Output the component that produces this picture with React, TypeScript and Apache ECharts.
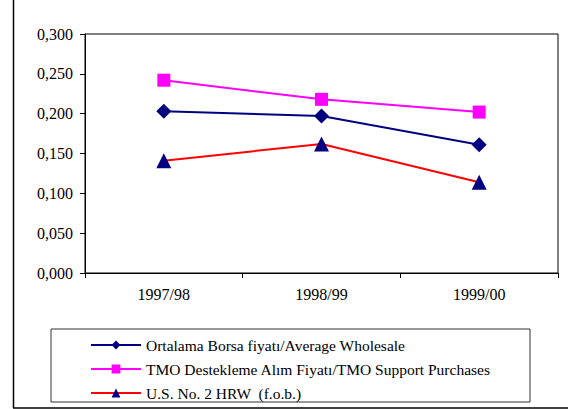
import React, { useEffect, useRef } from "react";
import * as echarts from "echarts";

const categories = ["1997/98", "1998/99", "1999/00"];
const averageWholesale = [0.203, 0.197, 0.161];
const tmoSupport = [0.242, 0.218, 0.202];
const usHrw = [0.141, 0.162, 0.114];
const seriesNames = [
  "Ortalama Borsa fiyatı/Average Wholesale",
  "TMO Destekleme Alım Fiyatı/TMO Support Purchases",
  "U.S. No. 2 HRW  (f.o.b.)",
];

const FONT = "'Liberation Serif', 'Times New Roman', serif";

export default function App() {
  const ref = useRef<HTMLDivElement>(null);
  useEffect(() => {
    if (!ref.current) return;
    const chart = echarts.init(ref.current, null, { renderer: "svg" });
    chart.setOption({
      animation: false,
      backgroundColor: "#fff",
      textStyle: { fontFamily: FONT, color: "#000" },
      grid: {
        left: 85,
        top: 34,
        right: 10,
        bottom: 136,
        show: true,
        borderColor: "#000",
        borderWidth: 1,
        backgroundColor: "#fff",
      },
      xAxis: {
        type: "category",
        data: categories,
        boundaryGap: true,
        axisLine: { lineStyle: { color: "#000", width: 1 } },
        axisTick: { show: true, length: 5, inside: false, lineStyle: { color: "#000" } },
        axisLabel: { color: "#000", fontFamily: FONT, fontSize: 16, margin: 13 },
      },
      yAxis: {
        type: "value",
        min: 0,
        max: 0.3,
        interval: 0.05,
        axisLine: { show: true, lineStyle: { color: "#000", width: 1 } },
        axisTick: { show: true, length: 5, lineStyle: { color: "#000" } },
        splitLine: { show: false },
        axisLabel: {
          color: "#000",
          fontFamily: FONT,
          fontSize: 16,
          margin: 12,
          formatter: (v: number) => v.toFixed(3).replace(".", ","),
        },
      },
      legend: {
        orient: "vertical",
        left: 90,
        top: 337,
        itemWidth: 50,
        itemHeight: 11,
        itemGap: 8,
        padding: 0,
        textStyle: { fontFamily: FONT, fontSize: 15.5, color: "#000", lineHeight: 16 },
        data: seriesNames,
      },
      graphic: [
        {
          type: "line",
          shape: { x1: 13.5, y1: 0, x2: 13.5, y2: 408 },
          style: { stroke: "#000", lineWidth: 1.5 },
        },
        {
          type: "line",
          shape: { x1: 13, y1: 408, x2: 568, y2: 408 },
          style: { stroke: "#000", lineWidth: 1.5 },
        },
        {
          type: "rect",
          shape: { x: 51, y: 329, width: 479, height: 73 },
          style: { fill: "none", stroke: "#333", lineWidth: 1 },
          z: -1,
        },
      ],
      series: [
        {
          name: seriesNames[0],
          type: "line",
          data: averageWholesale,
          symbol: "diamond",
          symbolSize: 15,
          lineStyle: { color: "#000080", width: 2 },
          itemStyle: { color: "#000080" },
        },
        {
          name: seriesNames[1],
          type: "line",
          data: tmoSupport,
          symbol: "rect",
          symbolSize: 13,
          lineStyle: { color: "#FF00FF", width: 2 },
          itemStyle: { color: "#FF00FF" },
        },
        {
          name: seriesNames[2],
          type: "line",
          data: usHrw,
          symbol: "triangle",
          symbolSize: 15,
          lineStyle: { color: "#FF0000", width: 2 },
          itemStyle: { color: "#000080" },
        },
      ],
    });
    return () => chart.dispose();
  }, []);
  return <div ref={ref} style={{ width: 568, height: 409, position: "absolute", left: 0, top: 0 }} />;
}
